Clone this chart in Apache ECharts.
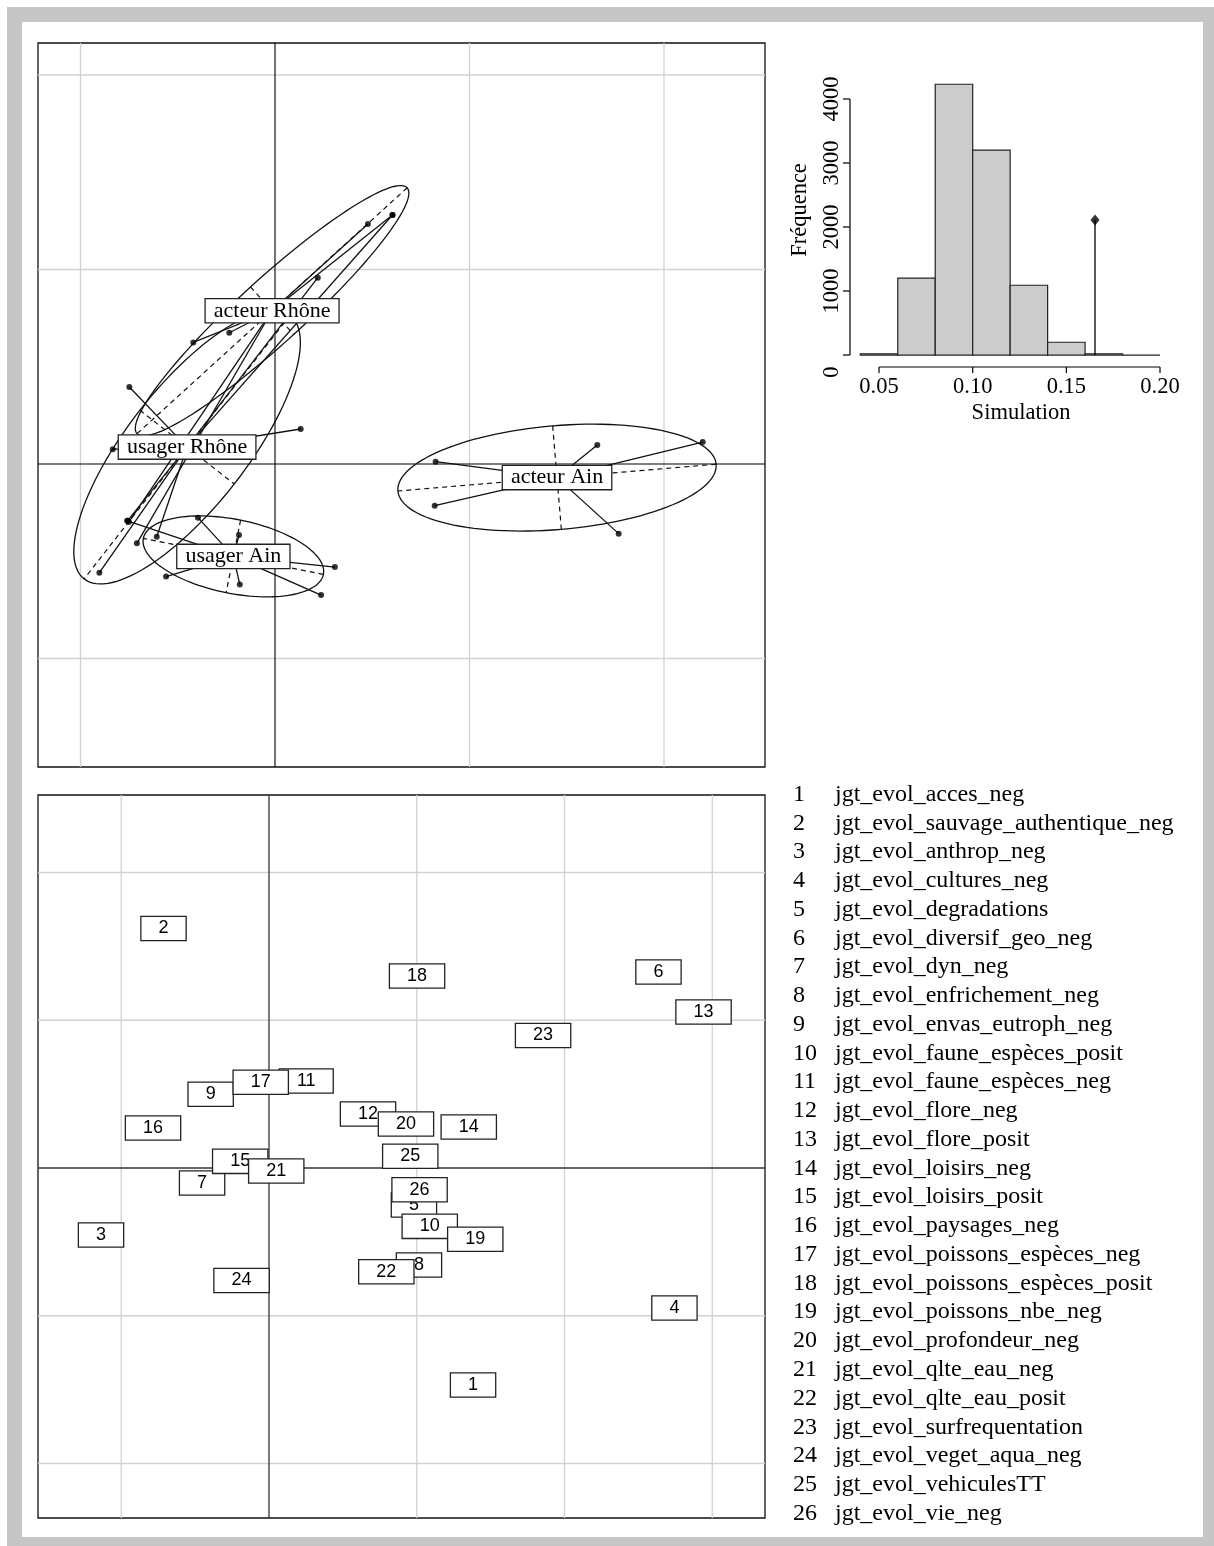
<!DOCTYPE html>
<html><head><meta charset="utf-8">
<script src="https://cdn.jsdelivr.net/npm/echarts@6/dist/echarts.min.js"></script>
<style>
html,body{margin:0;padding:0;background:#fff;overflow:hidden;width:1214px;height:1546px;}
#chart{position:absolute;left:0;top:0;width:1214px;height:1546px;}
#frame{position:absolute;left:7px;top:7px;right:-4px;bottom:-6px;border:15px solid #c6c6c6;pointer-events:none;}
</style></head><body>
<div id="chart"></div><div id="frame"></div>
<script>
// ---------- Panel 1 : classes (s.class) ----------
const classNames = ['acteur Rhône', 'usager Rhône', 'usager Ain', 'acteur Ain'];
const classX = [-0.015, -0.452, -0.214, 1.450];
const classY = [0.788, 0.087, -0.475, -0.070];
const ellipseA = [0.939, 0.860, 0.472, 0.821];
const ellipseB = [0.165, 0.308, 0.190, 0.267];
const ellipseAngle = [42.3, 52.0, -11.3, 4.8];

const indX = [0.478, 0.604, -0.420, -0.235, -0.751, -0.710,
              0.604, 0.220, -0.749, 0.132, -0.834, -0.759, -0.608, -0.903,
              -0.759, -0.396, -0.185, -0.560, -0.181, 0.308, 0.237,
              0.826, 1.657, 2.199, 0.821, 1.767];
const indY = [1.234, 1.280, 0.625, 0.675, -0.298, -0.408,
              1.280, 0.958, 0.396, 0.180, 0.076, -0.292, -0.374, -0.559,
              -0.292, -0.276, -0.365, -0.579, -0.619, -0.530, -0.674,
              0.012, 0.098, 0.113, -0.214, -0.358];
const indClass = [0, 0, 0, 0, 0, 0,
                  1, 1, 1, 1, 1, 1, 1, 1,
                  2, 2, 2, 2, 2, 2, 2,
                  3, 3, 3, 3, 3];
const topGridX = [-1, 1, 2];
const topGridY = [-1, 1, 2];

// ---------- Panel 2 : variables ----------
const varLabels = ['1','2','3','4','5','6','7','8','9','10','11','12','13','14','15','16','17','18','19','20','21','22','23','24','25','26'];
const varX = [1.381, -0.714, -1.137, 2.744, 0.981, 2.636, -0.453, 1.015, -0.395, 1.088, 0.252, 0.670, 2.941,
              1.352, -0.195, -0.785, -0.056, 1.002, 1.396, 0.927, 0.049, 0.794, 1.855, -0.186, 0.956, 1.019];
const varY = [-1.469, 1.621, -0.453, -0.948, -0.250, 1.327, -0.102, -0.657, 0.499, -0.395, 0.589, 0.365, 1.056,
              0.277, 0.045, 0.271, 0.580, 1.299, -0.482, 0.298, -0.020, -0.702, 0.897, -0.761, 0.079, -0.147];
const varNames = ['jgt_evol_acces_neg','jgt_evol_sauvage_authentique_neg','jgt_evol_anthrop_neg','jgt_evol_cultures_neg',
  'jgt_evol_degradations','jgt_evol_diversif_geo_neg','jgt_evol_dyn_neg','jgt_evol_enfrichement_neg','jgt_evol_envas_eutroph_neg',
  'jgt_evol_faune_espèces_posit','jgt_evol_faune_espèces_neg','jgt_evol_flore_neg','jgt_evol_flore_posit','jgt_evol_loisirs_neg',
  'jgt_evol_loisirs_posit','jgt_evol_paysages_neg','jgt_evol_poissons_espèces_neg','jgt_evol_poissons_espèces_posit',
  'jgt_evol_poissons_nbe_neg','jgt_evol_profondeur_neg','jgt_evol_qlte_eau_neg','jgt_evol_qlte_eau_posit',
  'jgt_evol_surfrequentation','jgt_evol_veget_aqua_neg','jgt_evol_vehiculesTT','jgt_evol_vie_neg'];
const botGridX = [-1, 1, 2, 3];
const botGridY = [-2, -1, 1, 2];

// ---------- Panel 3 : randtest histogram ----------
const binStart = [0.04, 0.06, 0.08, 0.10, 0.12, 0.14, 0.16, 0.18];
const binEnd   = [0.06, 0.08, 0.10, 0.12, 0.14, 0.16, 0.18, 0.20];
const binCount = [20, 1200, 4230, 3200, 1090, 200, 20, 0];
const obsValue = 0.1653;
const obsHeight = 2110;
const histXTicks = [0.05, 0.10, 0.15, 0.20];
const histXTickLabels = ['0.05', '0.10', '0.15', '0.20'];
const histYTicks = [0, 1000, 2000, 3000, 4000];
const histYTickLabels = ['0', '1000', '2000', '3000', '4000'];

// ---------- layout (axis ranges) ----------
const R1 = {xMin: -1.2185, xMax: 2.5193, yMin: -1.5578, yMax: 2.1645};
const R2 = {xMin: -1.5635, xMax: 3.3570, yMin: -2.3689, yMax: 2.5245};
const RH = {xMin: 0.0345, xMax: 0.2064, yMin: -187, yMax: 4406};

const SERIF = '"Liberation Serif", "Times New Roman", serif';
const SANS = '"Liberation Sans", Arial, sans-serif';
const INK = '#111';

function gridSegs(gx, gy, r) {
  const s = [];
  gx.forEach(v => s.push([v, r.yMin, v, r.yMax]));
  gy.forEach(v => s.push([r.xMin, v, r.xMax, v]));
  return s;
}
function axisSegs(r) { return [[0, r.yMin, 0, r.yMax], [r.xMin, 0, r.xMax, 0]]; }

function segSeries(idx, data, style, z) {
  return {
    type: 'custom', xAxisIndex: idx, yAxisIndex: idx, z: z, silent: true, data: data,
    renderItem: function (params, api) {
      const a = api.coord([api.value(0), api.value(1)]);
      const b = api.coord([api.value(2), api.value(3)]);
      return {type: 'line', shape: {x1: a[0], y1: a[1], x2: b[0], y2: b[1]},
              style: Object.assign({fill: null, stroke: INK, lineWidth: 1}, style)};
    }
  };
}

function boxLabelSeries(idx, data, texts, font, padding, lineHeight, bw, z) {
  return {
    type: 'custom', xAxisIndex: idx, yAxisIndex: idx, z: z, silent: true, data: data,
    renderItem: function (params, api) {
      const p = api.coord([api.value(0), api.value(1)]);
      return {type: 'text', x: p[0], y: p[1], style: {
        text: texts[params.dataIndex], font: font, fill: '#000',
        align: 'center', verticalAlign: 'middle', textAlign: 'center', textVerticalAlign: 'middle',
        backgroundColor: '#fff', borderColor: '#222', borderWidth: bw, padding: padding, lineHeight: lineHeight}};
    }
  };
}

const starData = indX.map((x, i) => [x, indY[i], classX[indClass[i]], classY[indClass[i]]]);
const ellipseData = classX.map((x, i) => [x, classY[i], ellipseA[i], ellipseB[i], ellipseAngle[i]]);
const pointData = indX.map((x, i) => [x, indY[i]]);
const classLabelData = classX.map((x, i) => [x, classY[i]]);
const varData = varX.map((x, i) => [x, varY[i]]);

const series = [];
// panel 1
series.push(segSeries(0, gridSegs(topGridX, topGridY, R1), {stroke: '#d2d2d2', lineWidth: 1.3}, 1));
series.push(segSeries(0, axisSegs(R1), {stroke: '#000', lineWidth: 1.1}, 1));
series.push({
  type: 'custom', xAxisIndex: 0, yAxisIndex: 0, z: 2, silent: true, data: ellipseData,
  renderItem: function (params, api) {
    const cx = api.value(0), cy = api.value(1), a = api.value(2), b = api.value(3);
    const t = api.value(4) * Math.PI / 180, ca = Math.cos(t), sa = Math.sin(t);
    const pts = [];
    for (let k = 0; k <= 120; k++) {
      const u = 2 * Math.PI * k / 120, ex = a * Math.cos(u), ey = b * Math.sin(u);
      pts.push(api.coord([cx + ex * ca - ey * sa, cy + ex * sa + ey * ca]));
    }
    const m1 = api.coord([cx + a * ca, cy + a * sa]), m2 = api.coord([cx - a * ca, cy - a * sa]);
    const n1 = api.coord([cx - b * sa, cy + b * ca]), n2 = api.coord([cx + b * sa, cy - b * ca]);
    const dash = {fill: null, stroke: INK, lineWidth: 1.2, lineDash: [5, 4]};
    return {type: 'group', children: [
      {type: 'polygon', shape: {points: pts}, style: {fill: null, stroke: INK, lineWidth: 1.3}},
      {type: 'line', shape: {x1: m1[0], y1: m1[1], x2: m2[0], y2: m2[1]}, style: dash},
      {type: 'line', shape: {x1: n1[0], y1: n1[1], x2: n2[0], y2: n2[1]}, style: dash}
    ]};
  }
});
series.push(segSeries(0, starData, {stroke: INK, lineWidth: 1.3}, 2));
series.push({type: 'scatter', xAxisIndex: 0, yAxisIndex: 0, z: 3, silent: true, data: pointData,
  symbol: 'circle', symbolSize: 6, itemStyle: {color: '#000'}});
series.push(boxLabelSeries(0, classLabelData, classNames, '22px ' + SERIF, [1, 8, 1, 8], 21, 1.3, 5));

// panel 2
series.push(segSeries(1, gridSegs(botGridX, botGridY, R2), {stroke: '#d2d2d2', lineWidth: 1.3}, 1));
series.push(segSeries(1, axisSegs(R2), {stroke: '#333', lineWidth: 1.3}, 1));
series.push(boxLabelSeries(1, varData, varLabels, '18px ' + SANS, [4, 17, 1, 17], 18, 1.3, 5));

// panel 3 : histogram
series.push({
  type: 'custom', xAxisIndex: 2, yAxisIndex: 2, z: 2, silent: true,
  data: binStart.map((s, i) => [s, binEnd[i], binCount[i]]),
  renderItem: function (params, api) {
    const p0 = api.coord([api.value(0), api.value(2)]);
    const p1 = api.coord([api.value(1), 0]);
    return {type: 'rect', shape: {x: p0[0], y: p0[1], width: p1[0] - p0[0], height: p1[1] - p0[1]},
            style: {fill: '#cccccc', stroke: '#222', lineWidth: 1.2}};
  }
});
series.push(segSeries(2, [[obsValue, 0, obsValue, obsHeight]], {stroke: '#000', lineWidth: 1.3}, 3));
series.push({type: 'scatter', xAxisIndex: 2, yAxisIndex: 2, z: 4, silent: true, data: [[obsValue, obsHeight]],
  symbol: 'diamond', symbolSize: [9, 11], itemStyle: {color: '#000'}});
// histogram axes
series.push(segSeries(2, [
  [histXTicks[0], RH.yMin, histXTicks[histXTicks.length - 1], RH.yMin],
  [RH.xMin, histYTicks[0], RH.xMin, histYTicks[histYTicks.length - 1]]
], {stroke: '#000', lineWidth: 1.2}, 3));
series.push({
  type: 'custom', xAxisIndex: 2, yAxisIndex: 2, z: 3, silent: true,
  data: histXTicks.map(v => [v, RH.yMin]),
  renderItem: function (params, api) {
    const p = api.coord([api.value(0), api.value(1)]);
    return {type: 'group', children: [
      {type: 'line', shape: {x1: p[0], y1: p[1], x2: p[0], y2: p[1] + 6}, style: {stroke: '#000', lineWidth: 1.2}},
      {type: 'text', x: p[0], y: p[1] + 20, style: {text: histXTickLabels[params.dataIndex], font: '22.5px ' + SERIF,
        fill: '#000', align: 'center', verticalAlign: 'middle', textAlign: 'center', textVerticalAlign: 'middle'}}
    ]};
  }
});
series.push({
  type: 'custom', xAxisIndex: 2, yAxisIndex: 2, z: 3, silent: true,
  data: histYTicks.map(v => [RH.xMin, v]),
  renderItem: function (params, api) {
    const p = api.coord([api.value(0), api.value(1)]);
    const shift = api.value(1) === 0 ? 17 : 0;
    return {type: 'group', children: [
      {type: 'line', shape: {x1: p[0] - 7, y1: p[1], x2: p[0], y2: p[1]}, style: {stroke: '#000', lineWidth: 1.2}},
      {type: 'text', x: p[0] - 18, y: p[1] + shift, rotation: Math.PI / 2,
        style: {text: histYTickLabels[params.dataIndex], font: '22.5px ' + SERIF, fill: '#000',
        align: 'center', verticalAlign: 'middle', textAlign: 'center', textVerticalAlign: 'middle'}}
    ]};
  }
});

// legend + axis titles (graphic)
const graphic = [];
graphic.push({type: 'text', x: 1021, y: 413, silent: true,
  style: {text: 'Simulation', font: '22.5px ' + SERIF, fill: '#000', align: 'center', verticalAlign: 'middle', textAlign: 'center', textVerticalAlign: 'middle'}});
graphic.push({type: 'text', x: 800, y: 210, rotation: Math.PI / 2, silent: true,
  style: {text: 'Fréquence', font: '22.5px ' + SERIF, fill: '#000', align: 'center', verticalAlign: 'middle', textAlign: 'center', textVerticalAlign: 'middle'}});
varNames.forEach((n, i) => {
  const y = 794.5 + i * 28.76;
  graphic.push({type: 'text', x: 793, y: y, silent: true,
    style: {text: varLabels[i], font: '24px ' + SERIF, fill: '#000', align: 'left', verticalAlign: 'middle', textAlign: 'left', textVerticalAlign: 'middle'}});
  graphic.push({type: 'text', x: 835, y: y, silent: true,
    style: {text: n, font: '24px ' + SERIF, fill: '#000', align: 'left', verticalAlign: 'middle', textAlign: 'left', textVerticalAlign: 'middle'}});
});

const option = {
  animation: false,
  backgroundColor: '#fff',
  grid: [
    {left: 38, top: 43, width: 727, height: 724, show: true, borderColor: '#111', borderWidth: 1.3, backgroundColor: '#fff'},
    {left: 38, top: 795, width: 727, height: 723, show: true, borderColor: '#111', borderWidth: 1.3, backgroundColor: '#fff'},
    {left: 850, top: 73, width: 322, height: 294, show: false}
  ],
  xAxis: [
    {gridIndex: 0, type: 'value', min: R1.xMin, max: R1.xMax, show: false},
    {gridIndex: 1, type: 'value', min: R2.xMin, max: R2.xMax, show: false},
    {gridIndex: 2, type: 'value', min: RH.xMin, max: RH.xMax, show: false}
  ],
  yAxis: [
    {gridIndex: 0, type: 'value', min: R1.yMin, max: R1.yMax, show: false},
    {gridIndex: 1, type: 'value', min: R2.yMin, max: R2.yMax, show: false},
    {gridIndex: 2, type: 'value', min: RH.yMin, max: RH.yMax, show: false}
  ],
  series: series,
  graphic: graphic
};
const chart = echarts.init(document.getElementById('chart'), null, {renderer: 'canvas', width: 1214, height: 1546});
chart.setOption(option);
</script></body></html>
